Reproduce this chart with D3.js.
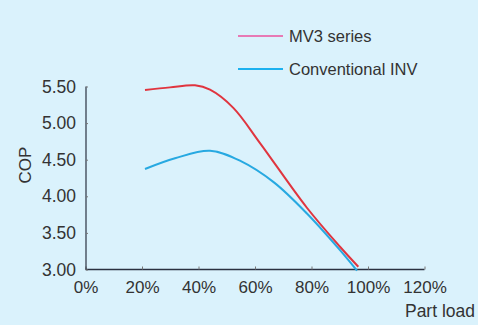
<!DOCTYPE html>
<html><head><meta charset="utf-8">
<script src="https://cdn.jsdelivr.net/npm/d3@7"></script>
<style>html,body{margin:0;padding:0;background:#daf2fc;}svg{display:block;font-family:"Liberation Sans",Arial,sans-serif;}</style>
</head><body>
<svg id="c" width="478" height="325"></svg>
<script>
const xTicks = [0, 20, 40, 60, 80, 100, 120];
const yTicks = [3.0, 3.5, 4.0, 4.5, 5.0, 5.5];
const mv3Load = [21.06, 29.91, 38.76, 44.07, 52.32, 61.77, 78.30, 90.09, 96.57];
const mv3Cop  = [5.452, 5.488, 5.516, 5.456, 5.208, 4.727, 3.847, 3.311, 3.038];
const convLoad = [21.06, 31.68, 44.07, 55.0, 66.7, 78.30, 90.09, 96.11];
const convCop  = [4.373, 4.519, 4.623, 4.48, 4.19, 3.768, 3.264, 2.984];
const seriesNames = ["MV3 series", "Conventional INV"];

const svg = d3.select("#c");
const x = d3.scaleLinear().domain([0, 120]).range([85.5, 424.5]);
const y = d3.scaleLinear().domain([3, 5.5]).range([269.5, 86.5]);
const txt = "#333";

// x axis
const xa = svg.append("g").attr("transform", "translate(0,269.5)")
  .call(d3.axisBottom(x).tickValues(xTicks).tickSize(-3).tickFormat(d => d + "%"));
xa.select(".domain").attr("stroke", "#2b3140").attr("stroke-width", 1.6).attr("d", "M85.5,0H424.5");
xa.selectAll(".tick line").attr("stroke", "#777");
xa.selectAll("text").attr("fill", txt).attr("font-size", 17).attr("font-family", "Liberation Sans, Arial, sans-serif").attr("dy", "0.75em").attr("y", 11);

// y axis
const ya = svg.append("g").attr("transform", "translate(86,0)")
  .call(d3.axisLeft(y).tickValues(yTicks).tickSize(-2).tickFormat(d3.format(".2f")));
ya.select(".domain").attr("stroke", "#2b3140").attr("stroke-width", 1.2).attr("d", "M0,86.5V269.5");
ya.selectAll(".tick line").attr("stroke", "#777");
ya.selectAll("text").attr("fill", txt).attr("font-size", 17.5).attr("font-family", "Liberation Sans, Arial, sans-serif").attr("x", -10);

svg.append("text").attr("transform", "translate(31,165) rotate(-90)")
  .attr("text-anchor", "middle").attr("fill", txt).attr("font-size", 17).text("COP");
svg.append("text").attr("x", 475).attr("y", 317).attr("text-anchor", "end")
  .attr("fill", txt).attr("font-size", 17.5).text("Part load");

const line = d3.line().x(d => x(d[0])).y(d => y(d[1])).curve(d3.curveCatmullRom.alpha(0.5));
svg.append("path").datum(convLoad.map((v, i) => [v, convCop[i]]))
  .attr("d", line).attr("fill", "none").attr("stroke", "#27a9e1").attr("stroke-width", 2);
svg.append("path").datum(mv3Load.map((v, i) => [v, mv3Cop[i]]))
  .attr("d", line).attr("fill", "none").attr("stroke", "#e0353f").attr("stroke-width", 2);

// legend
const legColors = ["#e77ab5", "#1cb1ef"];
const leg = svg.append("g");
seriesNames.forEach((n, i) => {
  const yy = 36 + i * 33;
  leg.append("line").attr("x1", 238).attr("x2", 283).attr("y1", yy).attr("y2", yy)
    .attr("stroke", legColors[i]).attr("stroke-width", 2);
  leg.append("text").attr("x", 289).attr("y", yy + 6).attr("fill", txt)
    .attr("font-size", 16.5).text(n);
});
</script>
</body></html>
